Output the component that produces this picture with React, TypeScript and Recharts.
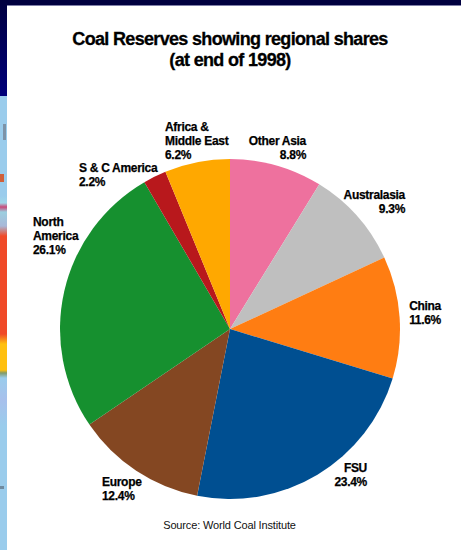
import React from 'react';
import { PieChart, Pie } from 'recharts';

// Slices run clockwise from twelve o'clock
const regions = ['Other Asia', 'Australasia', 'China', 'FSU', 'Europe', 'North America', 'S & C America', 'Africa & Middle East'];
const shares = [8.8, 9.3, 11.6, 23.4, 12.4, 26.1, 2.2, 6.2];
const colors = ['#ee719e', '#bfbfbf', '#ff7d12', '#004f91', '#844722', '#16902f', '#b8181c', '#ffa800'];
const labelLines = [
  ['Other Asia'],
  ['Australasia'],
  ['China'],
  ['FSU'],
  ['Europe'],
  ['North', 'America'],
  ['S & C America'],
  ['Africa &', 'Middle East'],
];

const data = regions.map((name, i) => ({ name, value: shares[i], fill: colors[i] }));

// Where each label block sits: anchor x and first baseline
const labelPlacement: { x: number; y: number; anchor: 'start' | 'end' }[] = [
  { x: 306, y: 145, anchor: 'end' },
  { x: 405, y: 199, anchor: 'end' },
  { x: 441, y: 310, anchor: 'end' },
  { x: 367, y: 472, anchor: 'end' },
  { x: 102, y: 486, anchor: 'start' },
  { x: 33, y: 226, anchor: 'start' },
  { x: 79, y: 172, anchor: 'start' },
  { x: 165, y: 131, anchor: 'start' },
];

const FONT = '"Liberation Sans", Arial, sans-serif';

const renderLabel = (props: any) => {
  const { index, value } = props;
  const place = labelPlacement[index];
  const lines = [...labelLines[index], `${value}%`];
  return (
    <text
      key={index}
      x={place.x}
      y={place.y}
      textAnchor={place.anchor}
      fontFamily={FONT}
      fontSize={12}
      fontWeight={700}
      letterSpacing={-0.3}
      fill="#000"
      stroke="#000"
      strokeWidth={0.25}
    >
      {lines.map((line, i) => (
        <tspan key={line} x={place.x} y={place.y + i * 14}>
          {line}
        </tspan>
      ))}
    </text>
  );
};

const box = (left: number, top: number, width: number, height: number, background: string): React.CSSProperties => ({
  position: 'absolute',
  left,
  top,
  width,
  height,
  background,
});

// Map sliver down the left edge, soft colour bands top to bottom
const mapStrip =
  'linear-gradient(#9accec 0px, #9accec 196px, #a0d8e8 203px, #c84a78 207px, #9ccfe0 212px, #a8b8d8 226px, #f04a28 236px, ' +
  '#f04a28 334px, #ffc010 344px, #ffc010 370px, #7f9a6a 373px, #9accec 378px, #a8c0ec 400px, #9accec 425px, #9accec 550px)';

export default function App() {
  return (
    <div style={{ position: 'absolute', left: 0, top: 0, width: 461, height: 550, background: '#fff', overflow: 'hidden' }}>
      {/* slide frame and the sliver of map behind the panel */}
      <div style={box(0, 0, 7, 550, mapStrip)} />
      <div style={box(3, 124, 3, 16, '#7d93a8')} />
      <div style={box(0, 174, 4, 8, '#d0603a')} />
      <div style={box(0, 486, 4, 3, '#6f8aa0')} />
      <div style={box(0, 0, 461, 5, '#00003f')} />
      <div style={box(0, 0, 7, 96, 'linear-gradient(#00003f, #00007a)')} />
      <div style={box(7, 5, 454, 1, '#8080a8')} />
      <PieChart width={461} height={550} margin={{ top: 0, right: 0, bottom: 0, left: 0 }} style={{ position: 'absolute', left: 0, top: 0 }}>
        <text x={230} y={45} textAnchor="middle" fontFamily={FONT} fontSize={18} fontWeight={700} letterSpacing={-0.67} fill="#000" stroke="#000" strokeWidth={0.3}>
          Coal Reserves showing regional shares
        </text>
        <text x={230} y={66} textAnchor="middle" fontFamily={FONT} fontSize={18} fontWeight={700} letterSpacing={-0.67} fill="#000" stroke="#000" strokeWidth={0.3}>
          (at end of 1998)
        </text>
        <Pie
          data={data}
          dataKey="value"
          nameKey="name"
          cx={230}
          cy={329}
          outerRadius={170}
          startAngle={90}
          endAngle={-270}
          stroke="none"
          label={renderLabel}
          labelLine={false}
          isAnimationActive={false}
        />
        <text x={229.5} y={529} textAnchor="middle" fontFamily={FONT} fontSize={11} letterSpacing={-0.15} fill="#111">
          Source: World Coal Institute
        </text>
      </PieChart>
    </div>
  );
}
